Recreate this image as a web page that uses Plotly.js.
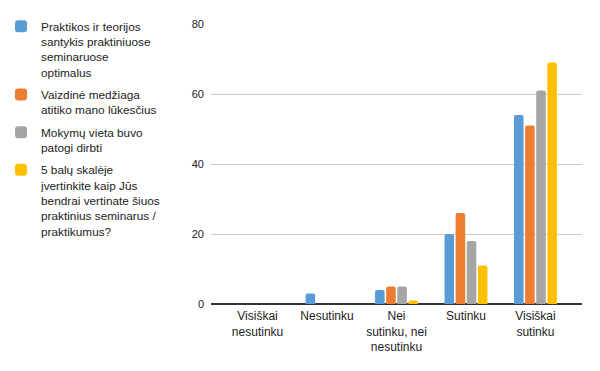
<!DOCTYPE html>
<html><head><meta charset="utf-8">
<script src="https://cdn.plot.ly/plotly-3.0.1.min.js"></script>
<style>body{margin:0}#c{width:600px;height:371px}</style>
</head><body><div id="c"></div>
<script>
const categories = ["Visiškai<br>nesutinku", "Nesutinku", "Nei<br>sutinku, nei<br>nesutinku", "Sutinku", "Visiškai<br>sutinku"];
const seriesNames = [
  "Praktikos ir teorijos<br>santykis praktiniuose<br>seminaruose<br>optimalus",
  "Vaizdinė medžiaga<br>atitiko mano lūkesčius",
  "Mokymų vieta buvo<br>patogi dirbti",
  "5 balų skalėje<br>įvertinkite kaip Jūs<br>bendrai vertinate šiuos<br>praktinius seminarus /<br>praktikumus?"
];
const praktikos = [0, 3, 4, 20, 54];
const vaizdine = [0, 0, 5, 26, 51];
const vieta = [0, 0, 5, 18, 61];
const balu = [0, 0, 1, 11, 69];
const colors = ["#5b9bd5", "#ed7d31", "#a5a5a5", "#ffc000"];
const values = [praktikos, vaizdine, vieta, balu];

const traces = values.map((v, i) => ({
  type: "bar", x: categories, y: v, name: seriesNames[i],
  legendgroup: "g" + i,
  marker: {color: colors[i], cornerradius: 2},
  hoverinfo: "y"
}));

const layout = {
  width: 600, height: 371,
  margin: {l: 211, r: 18, t: 24, b: 67, autoexpand: false},
  paper_bgcolor: "#fff", plot_bgcolor: "#fff",
  font: {family: "Liberation Sans, Arial, sans-serif", size: 12, color: "#222"},
  barmode: "group", bargap: 0.36, bargroupgap: 0.14,
  showlegend: true,
  legend: {x: -0.566, xanchor: "left", y: 1.043, yanchor: "top", orientation: "v",
    font: {size: 11.8, color: "#222"}, tracegroupgap: 4, itemwidth: 30, valign: "top",
    maxheight: 360,
    bgcolor: "rgba(0,0,0,0)", traceorder: "grouped"},
  xaxis: {type: "category", range: [-0.67, 4.67], showgrid: false, showline: false,
    ticks: "", tickfont: {size: 12, color: "#222"}, fixedrange: true, ticklabelstandoff: 3},
  yaxis: {range: [0, 80], dtick: 20, showgrid: true, gridcolor: "#cccccc",
    zeroline: true, zerolinecolor: "#333", zerolinewidth: 1.3,
    tickfont: {size: 11, color: "#222"}, ticks: "", ticklabelstandoff: 6}
};
Plotly.newPlot("c", traces, layout, {displayModeBar: false, staticPlot: true});
</script></body></html>
